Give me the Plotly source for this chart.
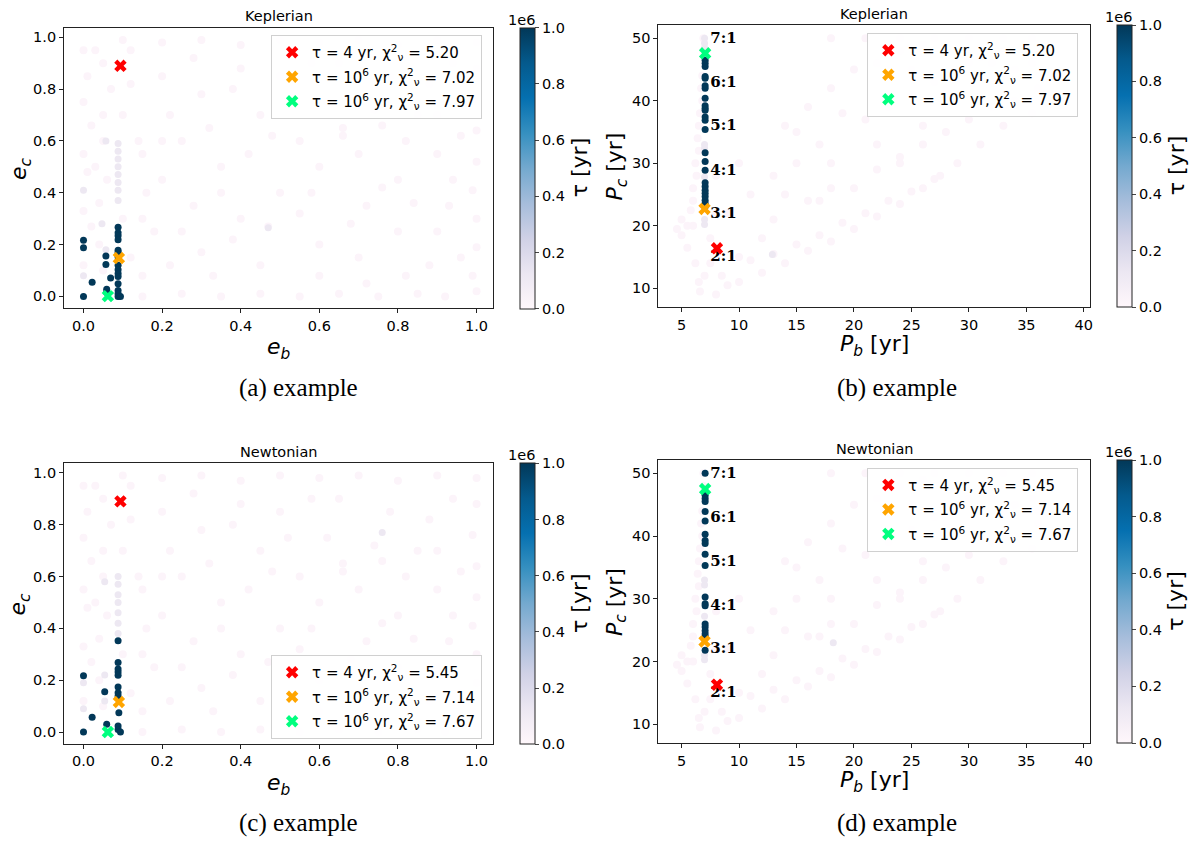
import numpy as np
import plotly.graph_objects as go

# ---- background cloud (tau ~ 0), shared shapes for e- and P-panels ----
bg_eb = [0.0, 0.01, 0.0, 0.02, 0.0, 0.01, 0.0, 0.02, 0.0,
         0.1, 0.2, 0.3, 0.4, 0.5, 0.6, 0.7, 0.8, 0.9, 1.0,
         1.0, 0.99, 1.0, 1.0, 0.99, 1.0, 1.0, 0.99, 1.0,
         0.15, 0.25, 0.35, 0.45, 0.55, 0.65, 0.75, 0.85, 0.92,
         0.05, 0.07, 0.05, 0.06, 0.04, 0.1, 0.12,
         0.2, 0.3, 0.25, 0.35, 0.45, 0.5, 0.55, 0.62, 0.7, 0.78, 0.85, 0.9,
         0.8, 0.72, 0.65, 0.4, 0.15, 0.2, 0.28, 0.4, 0.5, 0.6, 0.7, 0.8, 0.88,
         0.15, 0.22, 0.3, 0.38, 0.47, 0.55, 0.66, 0.76, 0.9, 0.94,
         0.03, 0.05, 0.03, 0.04, 0.12, 0.14, 0.16, 0.18, 0.1, 0.12, 0.22, 0.28,
         0.32, 0.38, 0.42, 0.48, 0.52, 0.58, 0.6, 0.66, 0.74, 0.82, 0.88, 0.94,
         0.96, 0.93, 0.9, 0.84, 0.76, 0.68, 0.58, 0.35, 0.25, 0.33, 0.45, 0.6,
         0.72, 0.82, 0.96, 0.05, 0.15, 0.2]
bg_ec = [0.95, 0.85, 0.75, 0.66, 0.55, 0.48, 0.33, 0.27, 0.12,
         0.99, 0.98, 0.99, 0.97, 0.99, 0.98, 0.99, 0.97, 0.99, 0.98,
         0.88, 0.76, 0.64, 0.52, 0.41, 0.3, 0.19, 0.08, 0.02,
         0.0, 0.01, 0.0, 0.01, 0.0, 0.01, 0.0, 0.01, 0.0,
         0.9, 0.8, 0.7, 0.45, 0.36, 0.7, 0.82,
         0.85, 0.78, 0.6, 0.5, 0.7, 0.85, 0.6, 0.75, 0.55, 0.85, 0.7, 0.55,
         0.45, 0.35, 0.9, 0.88, 0.55, 0.45, 0.35, 0.3, 0.4, 0.2, 0.15, 0.25, 0.12,
         0.08, 0.12, 0.17, 0.22, 0.27, 0.32, 0.62, 0.66, 0.7, 0.45,
         0.95, 0.6, 0.5, 0.2, 0.95, 0.6, 0.4, 0.25, 0.3, 0.15, 0.7, 0.92,
         0.65, 0.8, 0.55, 0.62, 0.75, 0.9, 0.5, 0.65, 0.72, 0.6, 0.82, 0.9,
         0.62, 0.35, 0.25, 0.36, 0.42, 0.28, 0.4, 0.4, 0.25, 0.08, 0.12, 0.08,
         0.05, 0.08, 0.15, 0.1, 0.3, 0.6]

bg_pb = [5.0, 5.5, 6.0, 6.0, 6.3, 6.5, 6.5, 6.8, 6.8, 6.9, 6.2, 6.5, 6.6,
         8.0, 9.0, 10.0, 12.0, 14.0, 16.0, 18.0, 20.0, 22.0, 24.0, 26.0, 27.0,
         18.0, 21.0, 24.0, 27.0, 30.0, 33.0, 35.5,
         35.5, 36.0, 35.5, 33.0, 31.0, 29.0, 27.5,
         9.0, 10.0, 14.0, 15.0, 18.0, 19.0, 20.0, 22.0, 23.0,
         25.0, 26.0, 28.0, 30.0, 31.0, 33.0, 12.0, 10.0, 13.0, 17.0, 20.0, 24.0,
         7.0, 8.5, 11.0, 13.0, 15.0, 17.0, 19.0, 21.0, 23.0, 25.0,
         16.0, 18.0, 22.0, 24.0, 26.0, 28.0, 30.0, 32.0, 34.0,
         11.0, 13.0, 15.0, 17.0, 21.0, 23.0, 25.0, 27.0, 29.0, 31.0, 33.0, 35.0,
         14.0, 16.0, 18.0, 22.0, 24.0, 26.0, 28.0, 32.0, 34.0, 36.0,
         5.5, 5.0, 5.8, 6.0, 6.2, 6.4, 6.6, 6.7, 6.9, 7.5, 7.5, 8.0, 8.0, 4.6]
bg_pc = [18.5, 16.5, 20.0, 24.0, 28.0, 32.0, 36.0, 40.0, 44.0, 48.0, 14.0, 11.0, 9.5,
         9.0, 10.5, 11.0, 12.5, 14.0, 16.0, 17.5, 19.5, 21.5, 23.5, 26.0, 27.5,
         50.0, 50.0, 50.0, 50.0, 50.0, 50.0, 50.0,
         46.0, 42.0, 38.0, 36.0, 33.0, 30.0, 28.0,
         22.0, 30.0, 25.0, 35.0, 30.0, 38.0, 45.0, 33.0, 40.0,
         45.0, 36.0, 42.0, 46.0, 40.0, 44.0, 18.0, 15.0, 21.0, 24.0, 26.0, 30.0,
         12.0, 12.0, 14.5, 15.5, 17.0, 18.5, 20.5, 22.0, 24.0, 25.5,
         24.0, 26.0, 29.0, 31.0, 33.0, 35.0, 37.0, 39.0, 40.0,
         25.0, 28.0, 30.0, 33.0, 37.0, 39.0, 41.0, 43.0, 45.0, 47.0, 48.0, 49.0,
         36.0, 39.0, 42.0, 46.0, 48.0, 49.0, 48.0, 46.0, 45.0, 44.0,
         20.0, 21.0, 22.5, 26.0, 30.0, 34.0, 38.0, 42.0, 50.0, 14.0, 18.0, 22.0, 28.0, 19.5]

# ---- Keplerian, eccentricities (a) ----
dark_a_eb = [0.0, 0.0, 0.0, 0.022, 0.057, 0.057, 0.069, 0.059, 0.059,
             0.088, 0.088, 0.088, 0.088, 0.088, 0.088, 0.088, 0.088, 0.088,
             0.088, 0.088, 0.088, 0.088, 0.088, 0.088, 0.094]
dark_a_ec = [0.217, 0.188, 0.0, 0.055, 0.156, 0.123, 0.071, 0.028, 0.015,
             0.267, 0.246, 0.234, 0.219, 0.178, 0.169, 0.152, 0.12, 0.103,
             0.088, 0.077, 0.049, 0.023, 0.01, 0.0, 0.0]
light_a_eb = [0.088, 0.088, 0.088, 0.088, 0.088, 0.088, 0.088, 0.088,
              0.057, 0.0, 0.0, 0.047, 0.057, 0.47]
light_a_ec = [0.59, 0.56, 0.53, 0.50, 0.47, 0.44, 0.41, 0.37,
              0.60, 0.41, 0.08, 0.28, 0.18, 0.265]

# ---- Newtonian, eccentricities (c) ----
dark_c_eb = [0.0, 0.0, 0.022, 0.054, 0.059, 0.088, 0.088, 0.088, 0.088,
             0.088, 0.088, 0.088, 0.088, 0.09, 0.088, 0.088, 0.094]
dark_c_ec = [0.217, 0.0, 0.057, 0.156, 0.03, 0.352, 0.268, 0.243, 0.232,
             0.219, 0.174, 0.152, 0.139, 0.075, 0.023, 0.01, 0.0]
light_c_eb = [0.76, 0.088, 0.088, 0.088, 0.088, 0.088, 0.088, 0.088,
              0.054, 0.0, 0.054, 0.054, 0.0]
light_c_ec = [0.77, 0.60, 0.57, 0.53, 0.50, 0.46, 0.42, 0.38,
              0.58, 0.19, 0.22, 0.12, 0.09]

# ---- Keplerian, periods (b) ----
dark_b_pc = [46.5, 46.0, 45.5, 43.9, 43.6, 42.4, 42.0, 40.4, 39.2, 38.8, 38.5,
             37.4, 36.9, 35.4, 31.7, 30.3, 28.9, 26.9, 26.3, 25.7, 25.2, 24.7,
             24.1, 23.6, 23.1]
light_b_pb = [7.0, 7.0, 7.0, 7.0, 7.0, 7.0, 7.0, 7.0, 12.9]
light_b_pc = [50.0, 49.2, 48.5, 33.0, 32.4, 27.8, 21.0, 20.2, 15.4]

# ---- Newtonian, periods (d) ----
dark_d_pc = [50.0, 46.5, 46.0, 45.5, 43.9, 42.4, 40.3, 39.3, 38.8, 37.1, 35.3,
             30.3, 29.2, 28.9, 26.0, 25.5, 24.9, 24.4, 23.9, 21.8]
light_d_pb = [7.0, 7.0, 7.0, 7.0, 7.0, 18.2]
light_d_pc = [33.0, 32.2, 27.2, 21.0, 20.3, 23.0]

dark_pb = 7.05
tau_dark = 1.0e6
tau_light = 1.2e5
tau_bg = 2.0e4

# best fits: (x, y) per panel, order red / orange / green
best_a = [(0.094, 0.89), (0.09, 0.148), (0.062, 0.001)]
best_c = [(0.094, 0.89), (0.09, 0.116), (0.062, 0.0)]
best_b = [(8.08, 16.4), (7.0, 22.7), (7.05, 47.6)]
best_d = [(8.08, 16.3), (7.0, 23.2), (7.05, 47.5)]
best_colors = ["red", "orange", "springgreen"]
chi_kep = ["5.20", "7.02", "7.97"]
chi_newt = ["5.45", "7.14", "7.67"]
tau_text = ["4", "10<sup>6</sup>", "10<sup>6</sup>"]

res_labels = ["7:1", "6:1", "5:1", "4:1", "3:1", "2:1"]
res_pc = [49.8, 42.8, 35.9, 28.8, 21.9, 14.9]

W, H = 1200, 843
FONT = "DejaVu Sans"


def px(x):
    return x / W


def py(y):
    return 1 - y / H


fig = go.Figure()

panels = [
    ("a", "", (bg_eb, bg_ec), (light_a_eb, light_a_ec), (dark_a_eb, dark_a_ec), best_a, chi_kep),
    ("b", "2", (bg_pb, bg_pc), (light_b_pb, light_b_pc), ([dark_pb] * len(dark_b_pc), dark_b_pc), best_b, chi_kep),
    ("c", "3", (bg_eb, bg_ec), (light_c_eb, light_c_ec), (dark_c_eb, dark_c_ec), best_c, chi_newt),
    ("d", "4", (bg_pb, bg_pc), (light_d_pb, light_d_pc), ([dark_pb] * len(dark_d_pc), dark_d_pc), best_d, chi_newt),
]

for name, sfx, bg, light, dark, best, chi in panels:
    xs = np.concatenate([bg[0], light[0], dark[0]])
    ys = np.concatenate([bg[1], light[1], dark[1]])
    cs = np.concatenate([[tau_bg] * len(bg[0]), [tau_light] * len(light[0]),
                         [tau_dark] * len(dark[0])])
    sizes = [8] * len(bg[0]) + [7] * (len(light[0]) + len(dark[0]))
    fig.add_trace(go.Scatter(
        x=xs, y=ys, mode="markers", showlegend=False,
        xaxis="x" + sfx, yaxis="y" + sfx,
        marker=dict(size=sizes, color=cs, coloraxis="coloraxis" + sfx,
                    opacity=1, line=dict(width=0)),
    ))
    if name in ("b", "d"):
        fig.add_trace(go.Scatter(
            x=[7.5] * len(res_labels), y=res_pc, text=res_labels,
            mode="text", textposition="middle right", showlegend=False,
            xaxis="x" + sfx, yaxis="y" + sfx,
            textfont=dict(family="DejaVu Serif", size=15, color="black", weight="bold"),
        ))
    for i, (bx, by) in enumerate(best):
        fig.add_trace(go.Scatter(
            x=[bx], y=[by], mode="markers",
            name=f"τ = {tau_text[i]} yr, χ<sup>2</sup><sub>ν</sub> = {chi[i]}",
            legend="legend" + sfx, legendgroup=name + str(i),
            xaxis="x" + sfx, yaxis="y" + sfx,
            marker=dict(symbol="x", size=11, color=best_colors[i], line=dict(width=0)),
        ))

# plot areas in pixels: left, right, top, bottom
boxes = {
    "": (64.2, 494.3, 27.7, 308.3),
    "2": (660.0, 1093.0, 25.0, 307.3),
    "3": (64.2, 494.3, 463.3, 744.0),
    "4": (660.0, 1093.0, 460.0, 743.3),
}
axis_style = dict(showline=True, mirror=True, linecolor="#222", linewidth=1,
                  ticks="outside", ticklen=4, tickcolor="#222", showgrid=False,
                  zeroline=False, tickfont=dict(family=FONT, size=14.5, color="black"))
layout = {}
for sfx, (l, r, t, b) in boxes.items():
    is_e = sfx in ("", "3")
    xa = dict(axis_style, domain=[px(l), px(r)], anchor="y" + sfx)
    ya = dict(axis_style, domain=[py(b), py(t)], anchor="x" + sfx)
    if is_e:
        xa.update(range=[-0.0495, 1.042], tickvals=[0, 0.2, 0.4, 0.6, 0.8, 1.0], tickformat=".1f")
        ya.update(range=[-0.046, 1.037], tickvals=[0, 0.2, 0.4, 0.6, 0.8, 1.0], tickformat=".1f")
    else:
        xa.update(range=[2.98, 40.56], tickvals=[5, 10, 15, 20, 25, 30, 35, 40])
        ya.update(range=[6.96, 52.13], tickvals=[10, 20, 30, 40, 50])
    layout["xaxis" + sfx] = xa
    layout["yaxis" + sfx] = ya

    cb_x = 521.7 if is_e else 1120.0
    layout["coloraxis" + sfx] = dict(
        colorscale="PuBu", cmin=0, cmax=1e6,
        colorbar=dict(
            x=px(cb_x), xanchor="left", y=py(t), yanchor="top",
            lenmode="pixels", len=b - t, thickness=15, xpad=0, ypad=0,
            outlinewidth=1, outlinecolor="#222", ticks="outside", ticklen=4,
            tickvals=[0, 2e5, 4e5, 6e5, 8e5, 1e6],
            ticktext=["0.0", "0.2", "0.4", "0.6", "0.8", "1.0"],
            tickfont=dict(family=FONT, size=14.5, color="black"),
        ),
    )

    leg_x = 271.8 if is_e else 869.5
    leg_y = {"": 35.0, "2": 33.0, "3": 655.0, "4": 467.7}[sfx]
    layout["legend" + sfx] = dict(
        x=px(leg_x), y=py(leg_y), xanchor="left", yanchor="top",
        bgcolor="rgba(255,255,255,0.85)", bordercolor="#d0d0d0", borderwidth=1,
        font=dict(family=FONT, size=15, color="black"), tracegroupgap=2,
    )

annotations = []


def note(text, x, y, size, family=FONT, angle=0):
    annotations.append(dict(text=text, x=px(x), y=py(y), xref="paper", yref="paper",
                            showarrow=False, textangle=angle, xanchor="center",
                            yanchor="middle", font=dict(family=family, size=size, color="black")))


for sfx, (l, r, t, b) in boxes.items():
    is_e = sfx in ("", "3")
    cx = (l + r) / 2
    cy = (t + b) / 2
    top = sfx in ("", "2")
    note("Keplerian" if top else "Newtonian", cx, t - 11.5, 14.5)
    if is_e:
        note("<i>e</i><sub><i>c</i></sub>", 20, cy, 22, angle=-90)
        note("<i>e</i><sub><i>b</i></sub>", cx, b + 40, 22)
    else:
        note("<i>P</i><sub><i>c</i></sub> [yr]", 618, cy, 22, angle=-90)
        note("<i>P</i><sub><i>b</i></sub> [yr]", cx, b + 38, 22)
    cb_x = 521.7 if is_e else 1120.0
    note("1e6", cb_x + 1, t - 8, 14.5)
    note("τ [yr]", cb_x + 59, cy, 22, angle=-90)

captions = ["(a) example", "(b) example", "(c) example", "(d) example"]
cap_pos = [(299, 388), (899, 388), (299, 823), (899, 823)]
for cap, (cx, cy) in zip(captions, cap_pos):
    note(cap, cx, cy, 25, family="Liberation Serif")

fig.update_layout(
    width=W, height=H, margin=dict(l=0, r=0, t=0, b=0),
    paper_bgcolor="white", plot_bgcolor="white",
    annotations=annotations, **layout,
)

# drop the page's default body margin so the figure sits at the window origin
fig.write_html("out.html", config={"displayModeBar": False},
               post_script="document.body.style.margin = '0';")
